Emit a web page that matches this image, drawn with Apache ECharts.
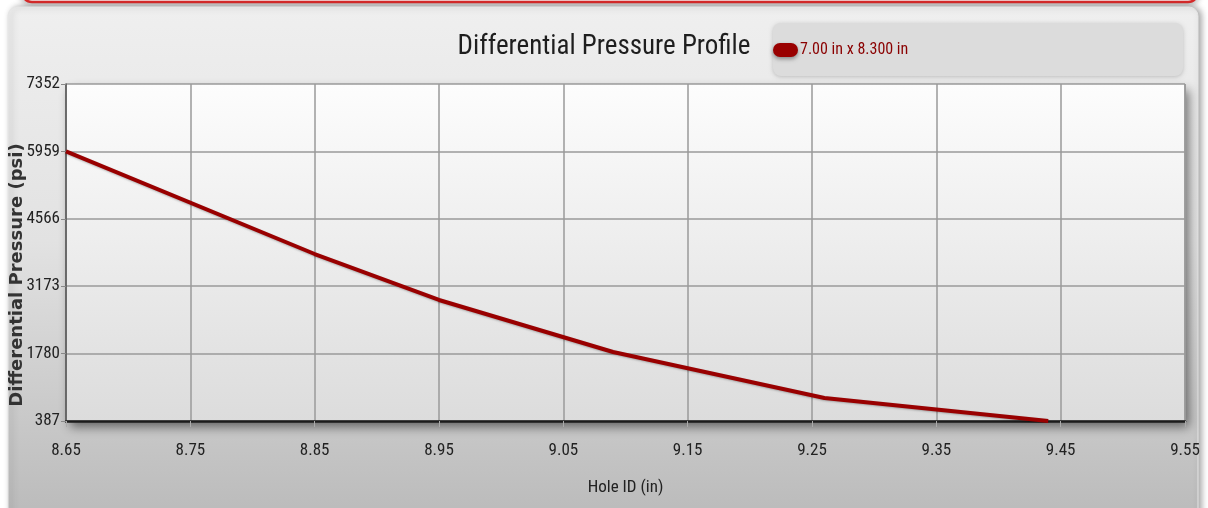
<!DOCTYPE html>
<html>
<head>
<meta charset="utf-8">
<script src="https://cdn.jsdelivr.net/npm/echarts@6/dist/echarts.min.js"></script>
<style>
html,body{margin:0;padding:0;background:#ffffff;}
#chart{width:1208px;height:508px;}
</style>
</head>
<body>
<div id="chart"></div>
<script>
// ---- data ----
const seriesName = '7.00 in x 8.300 in';
const holeId = [8.65, 8.85, 8.95, 9.09, 9.26, 9.44];          // in
const diffPressure = [5959, 3838, 2888, 1813, 862, 387];        // psi
const yTickLabels = [387, 1780, 3173, 4566, 5959, 7352];
const xTickLabels = [8.65, 8.75, 8.85, 8.95, 9.05, 9.15, 9.25, 9.35, 9.45, 9.55];

const xBase = xTickLabels[0];
const yBase = yTickLabels[0];
const xStep = 0.1;
const yStep = yTickLabels[1] - yTickLabels[0];
const xSpan = xTickLabels[xTickLabels.length - 1] - xBase;
const ySpan = yTickLabels[yTickLabels.length - 1] - yBase;

const points = holeId.map((x, i) => [x - xBase, diffPressure[i] - yBase]);

const narrow = '"Roboto Condensed", "DejaVu Sans Condensed", sans-serif';

const chart = echarts.init(document.getElementById('chart'));
chart.setOption({
  animation: false,
  backgroundColor: '#ffffff',
  graphic: {
    elements: [
      {
        type: 'rect', z: -100, silent: true,
        shape: { x: 22, y: -30, width: 1176, height: 32, r: 10 },
        style: { fill: '#ffffff', stroke: '#d92b2b', lineWidth: 2.5,
                 shadowBlur: 6, shadowColor: 'rgba(0,0,0,0.25)', shadowOffsetY: 2 }
      },
      {
        type: 'rect', z: -99, silent: true,
        shape: { x: 8, y: 7, width: 1190, height: 520, r: 9 },
        style: {
          fill: new echarts.graphic.LinearGradient(0, 0, 0, 1, [
            { offset: 0, color: '#efefef' },
            { offset: 0.45, color: '#e2e2e2' },
            { offset: 1, color: '#b9b9b9' }
          ]),
          stroke: '#e6e6e6', lineWidth: 1,
          shadowBlur: 6, shadowColor: 'rgba(0,0,0,0.35)', shadowOffsetX: 3
        }
      },
      {
        type: 'rect', z: -98, silent: true,
        shape: { x: 773, y: 23, width: 410, height: 53, r: 8 },
        style: { fill: '#dcdcdc', shadowBlur: 4, shadowColor: 'rgba(0,0,0,0.2)', shadowOffsetY: 1 }
      }
    ]
  },
  title: {
    text: 'Differential Pressure Profile',
    left: 'center',
    top: 29,
    textStyle: { fontFamily: narrow, fontSize: 27, fontWeight: 'normal', color: '#1e1e1e' }
  },
  legend: {
    left: 773, top: 42,
    padding: 0,
    itemWidth: 25, itemHeight: 14, itemGap: 10,
    icon: 'path://M7,0 H18 A7,7 0 0 1 18,14 H7 A7,7 0 0 1 7,0 Z',
    textStyle: { fontFamily: narrow, fontSize: 16, color: '#8a0000', padding: [0, 0, 0, -3] },
    data: [{ name: seriesName, itemStyle: { color: '#990000', shadowBlur: 4, shadowColor: 'rgba(0,0,0,0.4)', shadowOffsetY: 2 } }]
  },
  grid: {
    show: true,
    left: 66, right: 23, top: 84, bottom: 87,
    containLabel: false,
    outerBoundsMode: 'none',
    borderWidth: 0,
    backgroundColor: new echarts.graphic.LinearGradient(0, 0, 0, 1, [
      { offset: 0, color: '#fdfdfd' },
      { offset: 1, color: '#dcdcdc' }
    ]),
    shadowBlur: 10, shadowColor: 'rgba(0,0,0,0.5)', shadowOffsetX: 4, shadowOffsetY: 6
  },
  xAxis: {
    type: 'value',
    min: 0, max: xSpan, interval: xStep,
    name: 'Hole ID (in)',
    nameLocation: 'middle',
    nameGap: 58,
    nameMoveOverlap: false,
    nameTextStyle: { fontFamily: narrow, fontSize: 17, color: '#222' },
    axisLine: { show: true, onZero: false, lineStyle: { color: '#1c1c1c', width: 2.5 } },
    axisTick: { show: true, length: 6, lineStyle: { color: '#aaaaaa', width: 1 } },
    axisLabel: {
      margin: 21,
      fontFamily: narrow, fontSize: 17, color: '#222',
      formatter: v => (v + xBase).toFixed(2)
    },
    splitLine: { show: true, lineStyle: { color: '#9a9a9a', width: 1.5 } }
  },
  yAxis: {
    type: 'value',
    min: 0, max: ySpan, interval: yStep,
    name: 'Differential Pressure (psi)',
    nameLocation: 'middle',
    nameGap: 40,
    nameMoveOverlap: false,
    nameTextStyle: { fontFamily: '"DejaVu Sans", sans-serif', fontWeight: 'bold', fontSize: 18, color: '#333', padding: [0, 45, 0, 0] },
    axisLine: { show: true, lineStyle: { color: '#555555', width: 1.5 } },
    axisTick: { show: true, length: 5, lineStyle: { color: '#888888', width: 1 } },
    axisLabel: {
      margin: 6,
      fontFamily: narrow, fontSize: 17, color: '#222',
      formatter: v => String(Math.round(v + yBase))
    },
    splitLine: { show: true, lineStyle: { color: '#9a9a9a', width: 1.5 } }
  },
  series: [{
    name: seriesName,
    type: 'line',
    data: points,
    showSymbol: false,
    symbol: 'none',
    lineStyle: { color: '#990000', width: 4, shadowBlur: 2, shadowColor: 'rgba(0,0,0,0.25)', shadowOffsetY: 1 },
    itemStyle: { color: '#990000' },
    z: 5
  }]
});
</script>
</body>
</html>
